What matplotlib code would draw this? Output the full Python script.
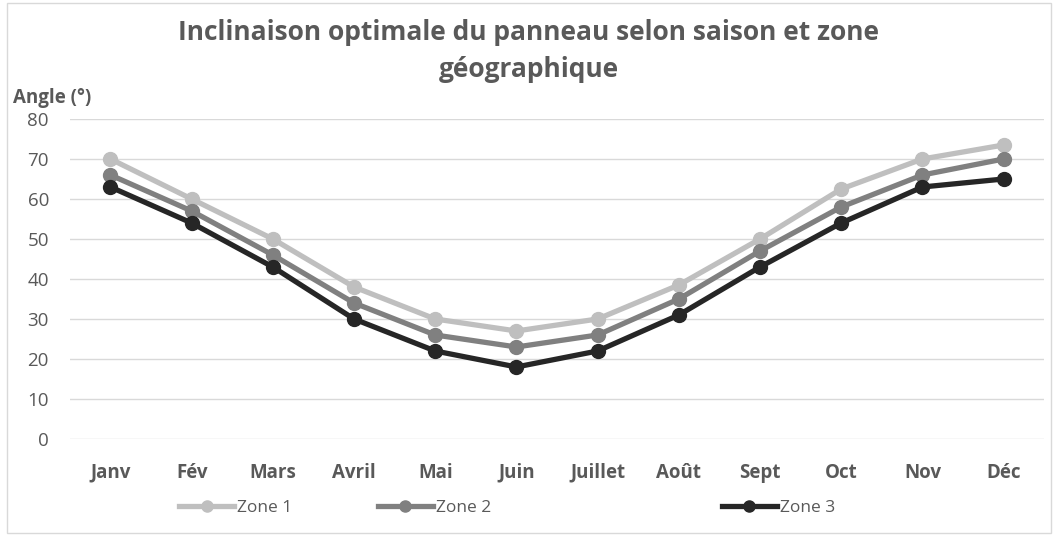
import matplotlib
matplotlib.use("Agg")
import matplotlib.pyplot as plt
from matplotlib.patches import Rectangle

plt.rcParams['font.family'] = ['Open Sans', 'DejaVu Sans']

months = ["Janv", "Fév", "Mars", "Avril", "Mai", "Juin",
          "Juillet", "Août", "Sept", "Oct", "Nov", "Déc"]
zone1 = [70, 60, 50, 38, 30, 27, 30, 38.5, 50, 62.5, 70, 73.5]
zone2 = [66, 57, 46, 34, 26, 23, 26, 35, 47, 58, 66, 70]
zone3 = [63, 54, 43, 30, 22, 18, 22, 31, 43, 54, 63, 65]
series_names = ["Zone 1", "Zone 2", "Zone 3"]
colors = ["#BFBFBF", "#808080", "#262626"]
text_color = "#595959"

fig = plt.figure(figsize=(10.58, 5.36), dpi=100)
ax = fig.add_axes([0.066, 0.181, 0.921, 0.597])

x = range(len(months))
lines = []
for vals, name, c in zip([zone1, zone2, zone3], series_names, colors):
    ln, = ax.plot(x, vals, color=c, lw=3.8, marker="o", markersize=10, label=name)
    lines.append(ln)

ax.set_xlim(-0.5, len(months) - 0.5)
ax.set_ylim(0, 80)
ax.set_yticks(range(0, 81, 10))
ax.yaxis.grid(True, color="#D9D9D9", lw=1)
ax.set_axisbelow(True)
for s in ax.spines.values():
    s.set_visible(False)
ax.tick_params(length=0)
ax.tick_params(axis="y", labelsize=13.5, labelcolor=text_color, pad=15)
ax.set_xticks(list(x))
ax.set_xticklabels(months, fontsize=13.5, fontweight="bold", color=text_color)
ax.tick_params(axis="x", pad=17)

fig.text(0.5, 0.94, "Inclinaison optimale du panneau selon saison et zone",
         ha="center", va="center", fontsize=19, fontweight="bold", color=text_color)
fig.text(0.5, 0.87, "géographique", ha="center", va="center",
         fontsize=19, fontweight="bold", color=text_color)
fig.text(0.012, 0.818, "Angle (°)", ha="left", va="center",
         fontsize=13.5, fontweight="bold", color=text_color)

# separate legend entries like the original layout
legend_x = [0.169, 0.357, 0.682]
for ln, lx in zip(lines, legend_x):
    fig.legend([ln], [ln.get_label()], loc="center left", bbox_to_anchor=(lx, 0.053),
               frameon=False, handlelength=3.2, handletextpad=0.15, markerscale=0.8,
               fontsize=12.5, labelcolor=text_color, borderaxespad=0, borderpad=0)

fig.patches.append(Rectangle((0.007, 0.006), 0.986, 0.988, transform=fig.transFigure,
                             fill=False, edgecolor="#D9D9D9", lw=1))

fig.savefig("out.png", dpi=100)
